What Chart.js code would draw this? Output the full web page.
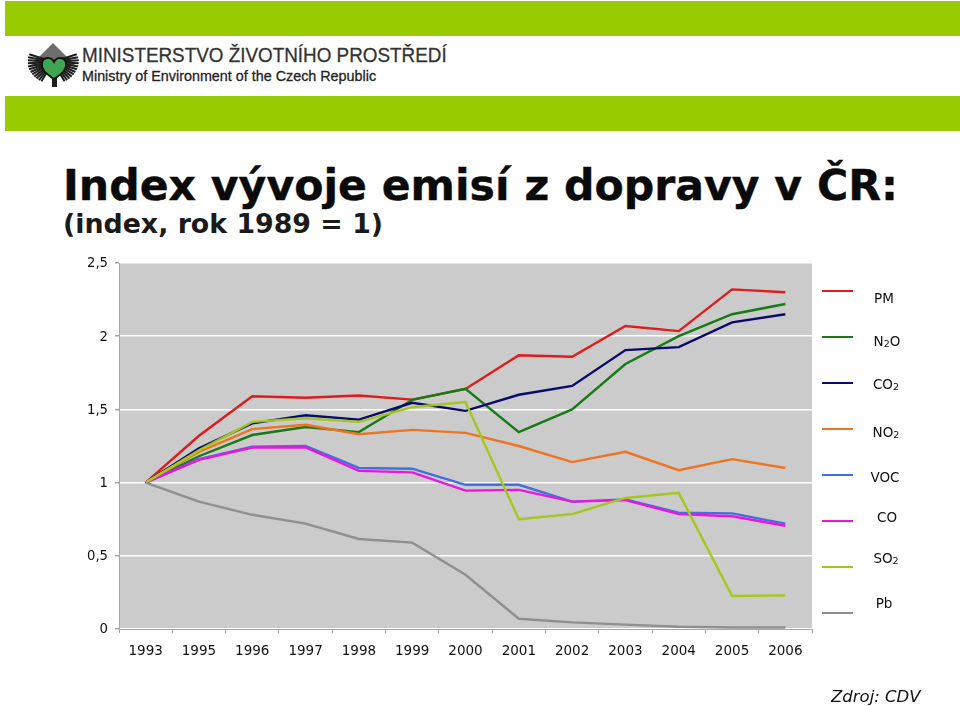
<!DOCTYPE html>
<html lang="cs">
<head>
<meta charset="UTF-8" />
<title>Index vývoje emisí z dopravy v ČR</title>
<script src="https://cdn.jsdelivr.net/npm/chart.js"></script>
<style>
  html, body { margin: 0; padding: 0; background: #fff; overflow: hidden; }
  #page { position: relative; width: 960px; height: 706px; overflow: hidden; }
  #page > * { position: absolute; }
  .band { left: 5px; width: 955px; height: 35px; background: #99cc00; }
  .txt { white-space: nowrap; }
  #title { left: 63px; top: 160px; font: bold 42.6px "DejaVu Sans", sans-serif; color: #0a0a0a; -webkit-text-stroke: 0.4px #0a0a0a; }
  #subtitle { left: 63px; top: 208px; font: bold 26.8px "DejaVu Sans", sans-serif; color: #1a1a1a; }
  #logo1 { left: 82px; top: 43px; font: 20.5px "Liberation Sans", sans-serif; color: #333; transform-origin: 0 0; transform: scaleX(0.92); -webkit-text-stroke: 0.3px #333; }
  #logo2 { left: 82px; top: 67px; font: 15.5px "Liberation Sans", sans-serif; color: #222; transform-origin: 0 0; transform: scaleX(0.925); -webkit-text-stroke: 0.3px #222; }
  #source { left: 831px; top: 687px; font: italic 16.5px "DejaVu Sans", sans-serif; color: #111; }
  canvas { left: 0; top: 0; }
  .legline { left: 822px; width: 31px; height: 2.4px; }
  .leglabel { font: 13.5px "DejaVu Sans", sans-serif; color: #111; transform: translate(-50%, -50%); white-space: nowrap; }
  .leglabel small { font-size: 9.5px; vertical-align: -1px; }
</style>
</head>
<body>
<div id="page">
  <div class="band" style="top: 1px"></div>
  <div class="band" style="top: 96px"></div>
  <svg id="logoMark" style="left: 28px; top: 42px" width="54" height="48" viewBox="0 0 54 48"></svg>
  <div id="logo1" class="txt">MINISTERSTVO ŽIVOTNÍHO PROSTŘEDÍ</div>
  <div id="logo2" class="txt">Ministry of Environment of the Czech Republic</div>
  <div id="title" class="txt">Index vývoje emisí z dopravy v ČR:</div>
  <div id="subtitle" class="txt">(index, rok 1989 = 1)</div>
  <canvas id="myChart" width="960" height="706" style="width: 960px; height: 706px"></canvas>
  <div id="source" class="txt">Zdroj: CDV</div>
</div>

<script>
  var roky = ["1993","1995","1996","1997","1998","1999","2000","2001","2002","2003","2004","2005","2006"];

  var pm  = [1, 1.32, 1.59, 1.58, 1.595, 1.567, 1.64, 1.87, 1.86, 2.07, 2.035, 2.32, 2.30];
  var n2o = [1, 1.18, 1.325, 1.38, 1.345, 1.565, 1.64, 1.345, 1.50, 1.81, 2.0, 2.15, 2.22];
  var co2 = [1, 1.235, 1.405, 1.46, 1.43, 1.545, 1.49, 1.60, 1.66, 1.905, 1.925, 2.095, 2.15];
  var no2 = [1, 1.21, 1.365, 1.395, 1.33, 1.36, 1.34, 1.25, 1.14, 1.21, 1.085, 1.16, 1.10];
  var voc = [1, 1.16, 1.245, 1.25, 1.10, 1.095, 0.985, 0.985, 0.87, 0.885, 0.795, 0.79, 0.72];
  var co  = [1, 1.155, 1.24, 1.24, 1.08, 1.07, 0.945, 0.95, 0.87, 0.88, 0.785, 0.77, 0.705];
  var so2 = [1, 1.22, 1.415, 1.44, 1.415, 1.515, 1.55, 0.75, 0.785, 0.895, 0.93, 0.225, 0.23];
  var pb  = [1, 0.87, 0.78, 0.72, 0.615, 0.59, 0.37, 0.07, 0.045, 0.03, 0.015, 0.01, 0.01];

  var nazvy = ["PM", "N2O", "CO2", "NO2", "VOC", "CO", "SO2", "Pb"];
  var rady = [pm, n2o, co2, no2, voc, co, so2, pb];
  var barvy = ["#e01b1b", "#177a17", "#0a0a6e", "#ee7422", "#3f6fe0", "#ee14e0", "#a2c81e", "#8f8f8f"];

  // legend placement, it is not evenly spaced in the original
  var legCary = [291, 337, 383, 429, 475, 521, 567, 613];
  var legTextX = [884, 887, 886, 886, 885, 887, 886, 884];
  var legTextY = [298, 341, 384, 432, 477, 517, 558, 603];

  var page = document.getElementById("page");
  nazvy.forEach(function (nazev, i) {
    var cara = document.createElement("div");
    cara.className = "legline";
    cara.style.top = legCary[i] - 1 + "px";
    cara.style.background = barvy[i];
    page.appendChild(cara);

    var popis = document.createElement("div");
    popis.className = "leglabel";
    popis.style.left = legTextX[i] + "px";
    popis.style.top = legTextY[i] + "px";
    popis.style.position = "absolute";
    popis.innerHTML = nazev.replace("2", "<small>2</small>");
    page.appendChild(popis);
  });

  // logo: grey roof, fan of ribs, trunk and the green heart
  var svg = '<polygon points="25,1 2,24 48,24" fill="#6e6e6e"/>';
  for (var a = 72; a <= 152; a += 7) {
    var r = a * Math.PI / 180;
    var d = 26 - Math.abs(a - 90) * 0.06;
    svg += '<line x1="25" y1="20" x2="' + (25 + d * Math.sin(r)) + '" y2="' + (20 - d * Math.cos(r)) + '" stroke="#1c1c1c" stroke-width="2"/>';
    svg += '<line x1="25" y1="20" x2="' + (25 - d * Math.sin(r)) + '" y2="' + (20 - d * Math.cos(r)) + '" stroke="#1c1c1c" stroke-width="2"/>';
  }
  svg += '<rect x="24" y="30" width="5" height="15" fill="#1c1c1c"/>';
  svg += '<path d="M26 37 C16 31 13 26 14 21 C15 15 23 14 26 20 C29 14 37 15 38 21 C39 26 36 31 26 37 Z" fill="#3fa552" stroke="#111" stroke-width="1.8"/>';
  document.getElementById("logoMark").innerHTML = svg;

  var pozadi = {
    id: "pozadi",
    beforeDraw: function (chart) {
      var a = chart.chartArea;
      chart.ctx.fillStyle = "#cbcbcb";
      chart.ctx.fillRect(a.left, a.top, a.right - a.left, a.bottom - a.top);
    },
  };

  new Chart(document.getElementById("myChart"), {
    type: "line",
    plugins: [pozadi],
    data: {
      labels: roky,
      datasets: nazvy.map(function (nazev, i) {
        return {
          label: nazev,
          data: rady[i],
          borderColor: barvy[i],
          borderWidth: 2.4,
          pointRadius: 0,
          tension: 0,
          order: nazvy.length - i,
        };
      }),
    },
    options: {
      responsive: false,
      animation: false,
      devicePixelRatio: 1,
      layout: { padding: { top: 263, right: 148, bottom: 47, left: 0 } },
      plugins: { legend: { display: false }, tooltip: { enabled: false } },
      scales: {
        x: {
          offset: true,
          afterFit: function (s) { s.height = 30; },
          grid: { offset: true, drawOnChartArea: false, color: "#a6a6a6", tickLength: 4 },
          border: { color: "#a6a6a6" },
          ticks: { color: "#111", font: { family: "DejaVu Sans", size: 13.5 }, padding: 10, maxRotation: 0, autoSkip: false },
        },
        y: {
          min: 0,
          max: 2.5,
          afterFit: function (s) { s.width = 119; },
          grid: { color: "#ffffff", lineWidth: 1.5, tickColor: "#a6a6a6", tickLength: 4 },
          border: { color: "#a6a6a6" },
          ticks: {
            stepSize: 0.5,
            color: "#111",
            font: { family: "DejaVu Sans", size: 13.2 },
            padding: 7,
            labelOffset: 1,
            callback: function (v) { return String(v).replace(".", ","); },
          },
        },
      },
    },
  });
</script>
</body>
</html>
